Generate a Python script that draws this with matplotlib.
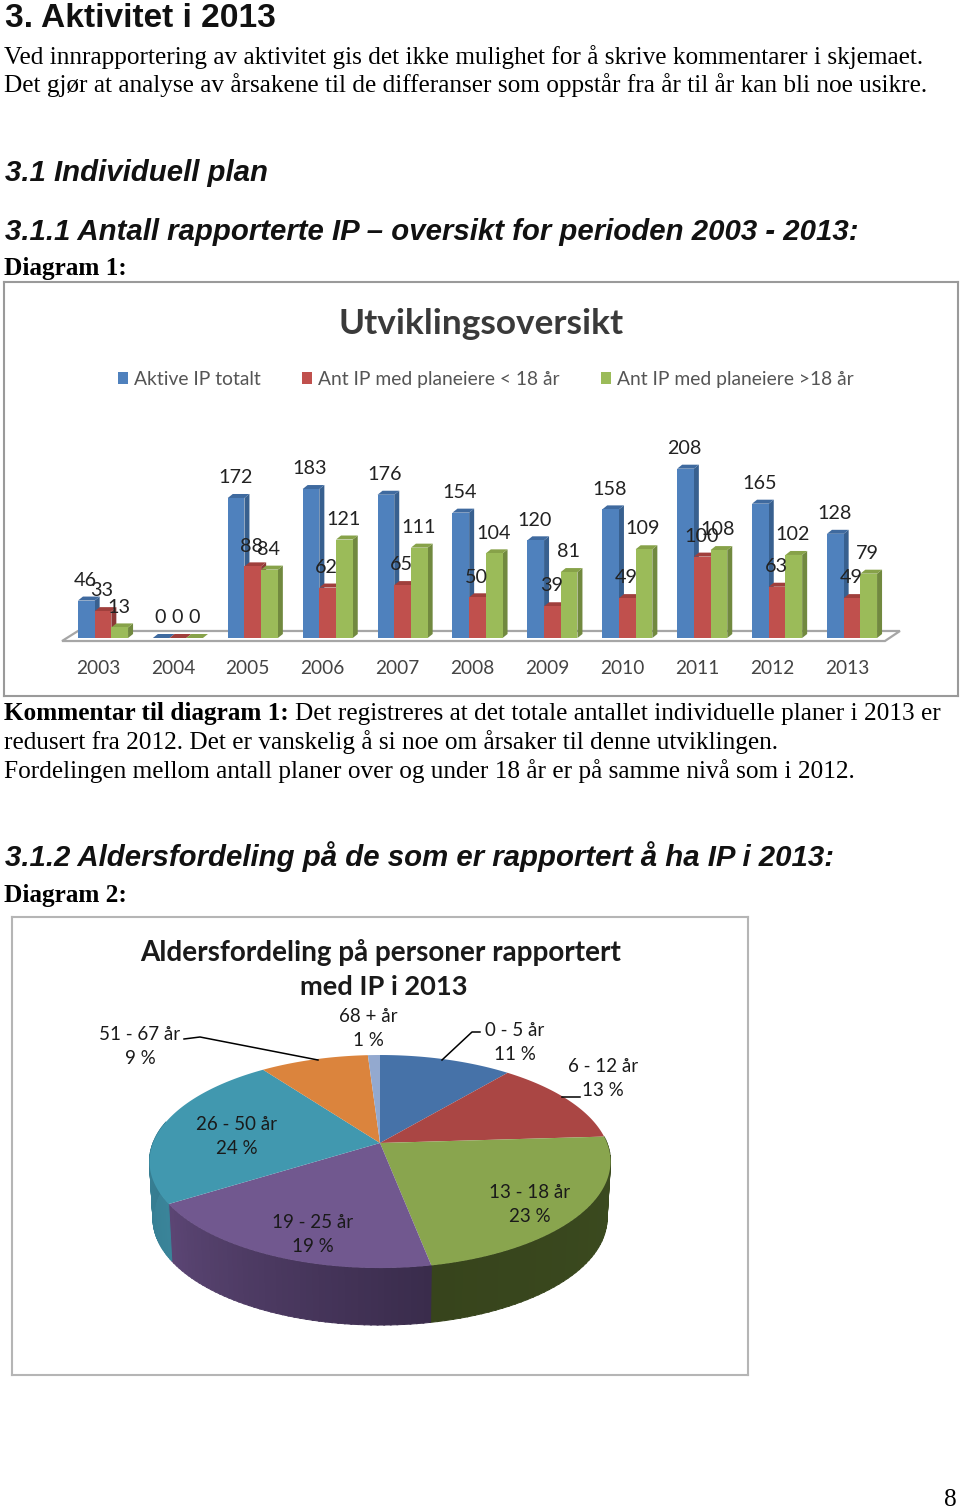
import numpy as np
import matplotlib
matplotlib.use("Agg")
import matplotlib.pyplot as plt

W, H = 960, 1509

years = ["2003", "2004", "2005", "2006", "2007", "2008", "2009", "2010", "2011", "2012", "2013"]
aktive = [46, 0, 172, 183, 176, 154, 120, 158, 208, 165, 128]
under18 = [33, 0, 88, 62, 65, 50, 39, 49, 100, 63, 49]
over18 = [13, 0, 84, 121, 111, 104, 81, 109, 108, 102, 79]
series_names = ["Aktive IP totalt", "Ant IP med planeiere < 18 år", "Ant IP med planeiere >18 år"]

age_groups = ["0 - 5 år", "6 - 12 år", "13 - 18 år", "19 - 25 år", "26 - 50 år", "51 - 67 år", "68 + år"]
age_pct = [11, 13, 23, 19, 24, 9, 1]

SANS = "Lato"
SERIF = "Liberation Serif"
HEAD = "Liberation Sans"


def fig_rect(x0, y0, x1, y1):
    return [x0 / W, 1 - y1 / H, (x1 - x0) / W, (y1 - y0) / H]


fig = plt.figure(figsize=(W / 100, H / 100), dpi=100, facecolor="white")

# page text, coordinates are pixels
page = fig.add_axes([0, 0, 1, 1])
page.set_xlim(0, W)
page.set_ylim(H, 0)
page.axis("off")


def body(x, y, s, **kw):
    page.text(x, y, s, family=SERIF, fontsize=18.2, color="black", va="baseline", **kw)


def heading(x, y, s, size=21.2, style="italic"):
    page.text(x, y, s, family=HEAD, fontsize=size, weight="bold", style=style, color="#111111", va="baseline")


heading(5, 27, "3. Aktivitet i 2013", size=24.1, style="normal")
body(4, 64, "Ved innrapportering av aktivitet gis det ikke mulighet for å skrive kommentarer i skjemaet.")
body(4, 92, "Det gjør at analyse av årsakene til de differanser som oppstår fra år til år kan bli noe usikre.")
heading(5, 181, "3.1 Individuell plan")
heading(5, 240, "3.1.1 Antall rapporterte IP – oversikt for perioden 2003 - 2013:")
body(4, 275, "Diagram 1:", weight="bold")
body(4, 720, "Kommentar til diagram 1:", weight="bold")
body(295, 720, "Det registreres at det totale antallet individuelle planer i 2013 er")
body(4, 749, "redusert fra 2012. Det er vanskelig å si noe om årsaker til denne utviklingen.")
body(4, 778, "Fordelingen mellom antall planer over og under 18 år er på samme nivå som i 2012.")
heading(5, 866, "3.1.2 Aldersfordeling på de som er rapportert å ha IP i 2013:")
body(4, 902, "Diagram 2:", weight="bold")
body(944, 1506, "8")

# --- Diagram 1 ---
ax = fig.add_axes(fig_rect(4, 282, 958, 696))
cat_px = 74.9
val_px = 0.814
ax.set_xlim((4 - 103) / cat_px, (958 - 103) / cat_px)
ax.set_ylim(-(696 - 638) / val_px, (638 - 282) / val_px)
ax.set_xticks([])
ax.set_yticks([])
for s in ax.spines.values():
    s.set_color("#9a9a9a")
    s.set_linewidth(1.5)

# floor of the 3D chart
ax.fill([-0.547, -0.334, 10.64, 10.44], [-3.7, 8.6, 8.6, -3.7], facecolor="white", edgecolor="#a6a6a6", lw=1.6, zorder=1)

bar_w = 16.7 / cat_px
dx = 5 / cat_px
dy = 4 / val_px
styles = [
    (aktive, "#4f81bd", "#38608f", "#3f6a9f"),
    (under18, "#c0504d", "#8c3836", "#a03f3c"),
    (over18, "#9bbb59", "#71893f", "#87a249"),
]
xs = np.arange(len(years))
z = 2
for k, (vals, front, side, top) in enumerate(styles):
    left = xs + (k - 1.5) * bar_w
    for x0, v in zip(left, vals):
        ax.fill([x0 + bar_w, x0 + bar_w + dx, x0 + bar_w + dx, x0 + bar_w], [0, dy, v + dy, v], color=side, lw=0, zorder=z)
        ax.fill([x0, x0 + dx, x0 + bar_w + dx, x0 + bar_w], [v, v + dy, v + dy, v], color=top, lw=0, zorder=z)
    ax.bar(left, vals, bar_w, align="edge", color=front, label=series_names[k], zorder=z + 0.5)
    for x0, v in zip(left, vals):
        ax.annotate(str(v), (x0 + bar_w / 2, v), xytext=(-0.7, 14.6), textcoords="offset points", ha="center", va="center",
                    family=SANS, fontsize=14.2, color="#222222", zorder=20)
    z += 1

for i, yr in zip(xs, years):
    ax.text(i - 0.067, -37.5, yr, ha="center", va="center", family=SANS, fontsize=13.8, color="#444444")

ax.text((481 - 4) / 954, 1 - (324.5 - 282) / 414, "Utviklingsoversikt", transform=ax.transAxes, ha="center", va="center",
        family=SANS, fontsize=25.4, weight="bold", color="#3a3a3a")
ax.legend(loc="center", bbox_to_anchor=((485.5 - 4) / 954, 1 - (379.5 - 282) / 414), ncols=3, frameon=False,
          prop={"family": SANS, "size": 13.85}, labelcolor="#555555", handlelength=0.56, handleheight=0.56,
          handletextpad=0.27, columnspacing=2.15, borderpad=0, borderaxespad=0)

# --- Diagram 2 ---
pie_ax = fig.add_axes(fig_rect(12, 917, 748, 1375))
pie_ax.set_xlim(12, 748)
pie_ax.set_ylim(1375, 917)
pie_ax.set_xticks([])
pie_ax.set_yticks([])
for s in pie_ax.spines.values():
    s.set_color("#b5b5b5")
    s.set_linewidth(1.5)

pie_colors = ["#4672a8", "#aa4644", "#89a54e", "#71588f", "#4198af", "#db843d", "#93a9cf"]
edges = np.radians(np.concatenate([[0], np.cumsum(age_pct)]) / sum(age_pct) * 360)
cx, cy = 380, 1143
A, B, k_p = 227, 103.3, 0.174
depth = 57


def rim(t):
    # circle seen in perspective, far side is flatter
    w = 1 + k_p * np.cos(t)
    return cx + A * np.sin(t) / w, cy - B * np.cos(t) / w


def wall_colour(t, a, b, start, end):
    f = (t - a) / (b - a)
    return tuple(np.array(matplotlib.colors.to_rgb(start)) * (1 - f) + np.array(matplotlib.colors.to_rgb(end)) * f)


walls = [
    (2, "#3c4c20", "#37441c"),
    (3, "#3a2c4c", "#5c4675"),
    (4, "#3a8499", "#347a8e"),
]
for idx, start, end in walls:
    a, b = edges[idx], edges[idx + 1]
    a = max(a, np.radians(80))
    b = min(b, np.radians(282))
    ts = np.linspace(a, b, 50)
    for t0, t1 in zip(ts[:-1], ts[1:]):
        xa, ya = rim(np.array([t0, t1 + 0.005]))
        xb = cx + (xa - cx) * 0.985
        yb = ya + depth
        c = wall_colour(t0, a, b, start, end)
        pie_ax.fill([xa[0], xa[1], xb[1], xb[0]], [ya[0], ya[1], yb[1], yb[0]],
                    facecolor=c, edgecolor=c, lw=0.7, zorder=2)

for i, col in enumerate(pie_colors):
    ts = np.linspace(edges[i], edges[i + 1], 80)
    px, py = rim(ts)
    pie_ax.fill(np.r_[cx, px], np.r_[cy, py], color=col, lw=0, zorder=3)

label_at = [(515, 1043), (603, 1079), (530, 1205), (313, 1234), (237, 1136), (140, 1046), (368, 1028)]
for name, pct, (lx, ly) in zip(age_groups, age_pct, label_at):
    pie_ax.text(lx, ly, f"{name}\n{pct} %", ha="center", va="center", family=SANS, fontsize=13.5,
                linespacing=1.5, color="#1a1a1a", zorder=5)

for lx, ly in [([184, 200, 318], [1039, 1037, 1060]), ([442, 472, 480], [1060, 1032, 1032]), ([562, 580], [1097, 1097])]:
    pie_ax.plot(lx, ly, color="black", lw=1.1, zorder=4)

pie_ax.text(381, 952, "Aldersfordeling på personer rapportert", ha="center", va="center", family=SANS, fontsize=20.1,
            weight="bold", color="#1a1a1a")
pie_ax.text(384, 987, "med IP i 2013", ha="center", va="center", family=SANS, fontsize=19.6, weight="bold", color="#1a1a1a")

fig.savefig("out.png", dpi=100)
